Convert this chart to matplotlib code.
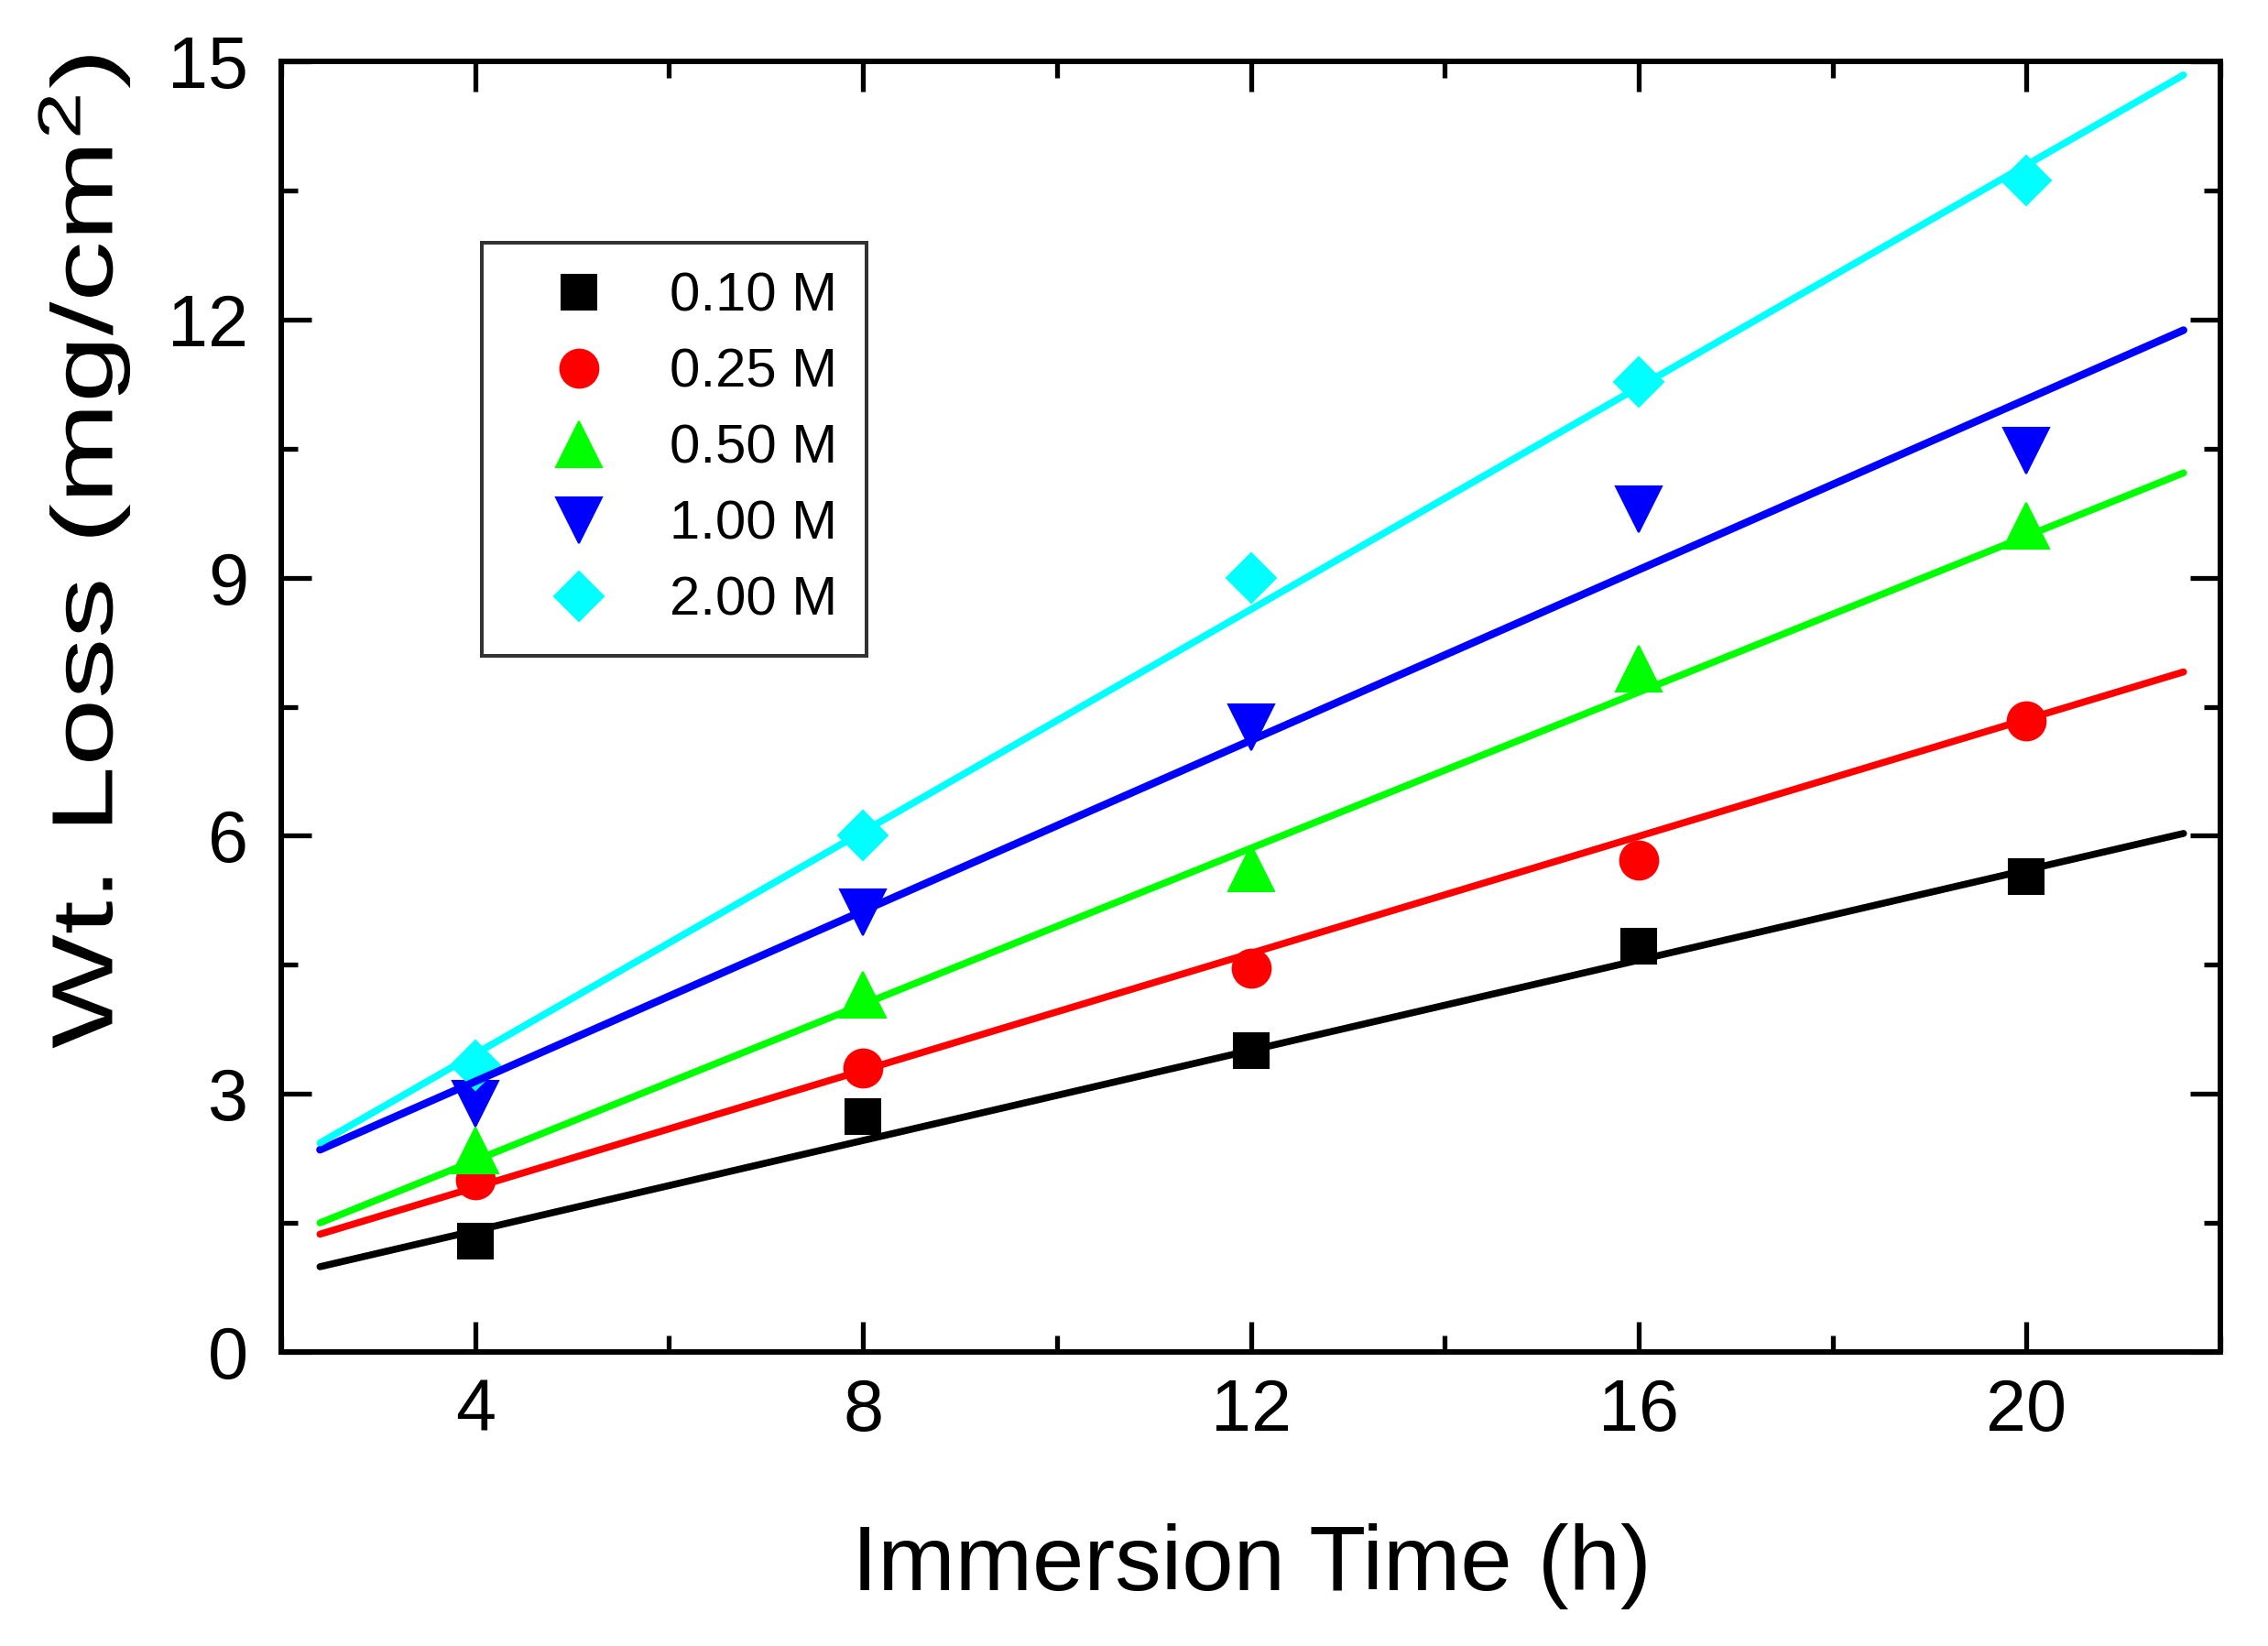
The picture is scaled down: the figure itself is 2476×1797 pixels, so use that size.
import numpy as np
import matplotlib
matplotlib.use("Agg")
import matplotlib.pyplot as plt
from matplotlib import patheffects
from matplotlib.ticker import MultipleLocator
from matplotlib.transforms import Affine2D

plt.rcParams['font.family'] = ['Liberation Sans', 'DejaVu Sans']
plt.rcParams['mathtext.fontset'] = 'custom'
plt.rcParams['mathtext.rm'] = 'Liberation Sans'
plt.rcParams['mathtext.it'] = 'Liberation Sans'

# immersion time (h)
TEMPOS = [4, 8, 12, 16, 20]

# weight loss (mg/cm2) for each acid concentration
PERDA_010 = [1.29, 2.74, 3.50, 4.72, 5.53]
PERDA_025 = [2.00, 3.30, 4.46, 5.72, 7.33]
PERDA_050 = [2.34, 4.15, 5.62, 7.94, 9.60]
PERDA_100 = [2.88, 5.11, 7.26, 9.79, 10.48]
PERDA_200 = [3.33, 6.00, 9.00, 11.27, 13.62]

# linear fits (slope, intercept)
INCLINACOES = [0.262, 0.340, 0.4535, 0.4956, 0.6458]
INTERCEPTOS = [0.362, 0.553, 0.412, 1.161, 0.880]

ROTULOS = ['0.10 M', '0.25 M', '0.50 M', '1.00 M', '2.00 M']
CORES = ['#000000', '#ff0000', '#00ff00', '#0000ff', '#00ffff']
MARCADORES = ['s', 'o', '^', 'v', 'D']
TAMANHOS = [27, 30, 36, 36, 27]
ESPESSURAS = [5.5, 5.5, 5.5, 6.0, 5.5]

FAIXA_AJUSTE = (2.4, 21.62)


class Esticar(patheffects.AbstractPathEffect):
    """Stretches glyphs along the text direction (the original label is wider)."""

    def __init__(self, fator):
        super().__init__()
        self.fator = fator

    def draw_path(self, renderer, gc, tpath, affine, rgbFace=None):
        renderer.draw_path(gc, tpath, Affine2D().scale(self.fator, 1.0) + affine, rgbFace)


def main():
    series = [PERDA_010, PERDA_025, PERDA_050, PERDA_100, PERDA_200]

    fig = plt.figure(figsize=(24.76, 17.97), dpi=100)
    ax = fig.add_axes([307 / 2476, 1 - 1476 / 1797, 2117 / 2476, 1409 / 1797])

    x_ajuste = np.linspace(*FAIXA_AJUSTE, 50)

    for valores, cor, marc, tam, rotulo in zip(series, CORES, MARCADORES, TAMANHOS, ROTULOS):
        ax.plot(TEMPOS, valores, linestyle='none', marker=marc, markersize=tam,
                color=cor, markeredgecolor=cor, markeredgewidth=1.5,
                label=rotulo, zorder=2)

    for a, b, cor, lw in zip(INCLINACOES, INTERCEPTOS, CORES, ESPESSURAS):
        ax.plot(x_ajuste, a * x_ajuste + b, color=cor, linewidth=lw,
                solid_capstyle='round', zorder=3)

    ax.set_xlim(2, 22)
    ax.set_ylim(0, 15)
    ax.xaxis.set_major_locator(MultipleLocator(4))
    ax.xaxis.set_minor_locator(MultipleLocator(2))
    ax.yaxis.set_major_locator(MultipleLocator(3))
    ax.yaxis.set_minor_locator(MultipleLocator(1.5))

    ax.tick_params(which='both', direction='in', top=True, right=True, width=3.8)
    ax.tick_params(which='major', length=24, labelsize=57)
    ax.tick_params(which='minor', length=13)
    ax.tick_params(axis='x', which='major', pad=20)
    ax.tick_params(axis='y', which='major', pad=26)
    for spine in ax.spines.values():
        spine.set_linewidth(4.3)

    fig.text(1366 / 2476, 1 - 1736 / 1797, 'Immersion Time (h)',
             fontsize=73, ha='center', va='baseline')
    fig.text(92 / 2476, 1 - 1145 / 1797, 'Wt. Loss (mg/cm$^2$)',
             fontsize=68, rotation=90, ha='center', va='bottom',
             path_effects=[Esticar(1.4)])

    leg = ax.legend(loc='upper left', bbox_to_anchor=(0.1035, 0.8595),
                    borderaxespad=0, fontsize=43, frameon=True, fancybox=False,
                    edgecolor='black', borderpad=0.53, handlelength=2.5,
                    handletextpad=0.4, labelspacing=0.47, numpoints=1)
    leg.get_frame().set_linewidth(2.9)

    fig.savefig('out.png', dpi=100)


if __name__ == '__main__':
    main()
